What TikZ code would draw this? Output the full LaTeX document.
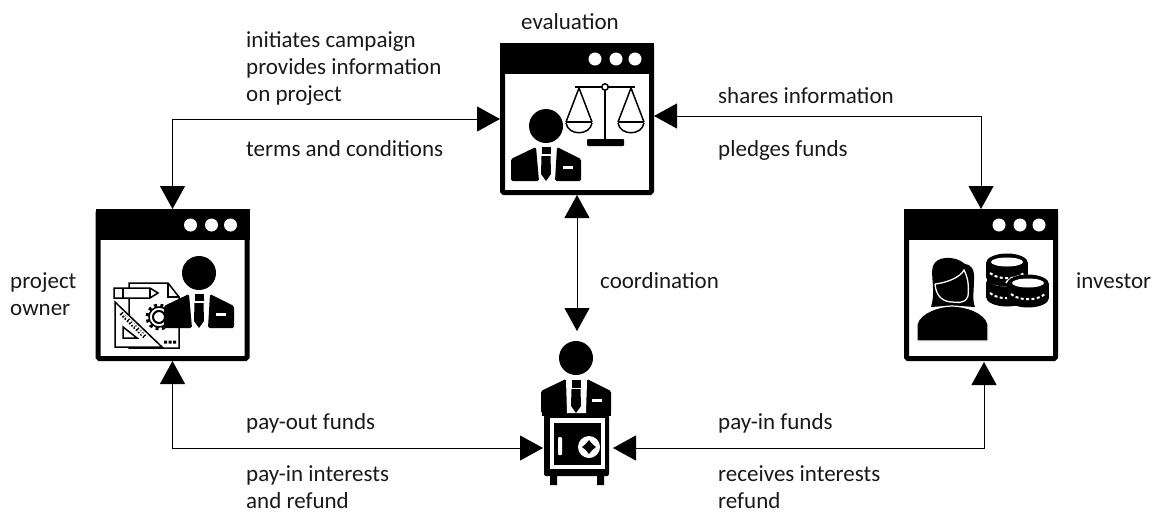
\documentclass[tikz,border=0pt]{standalone}
\usepackage{fontspec}
\setmainfont{Carlito}
\usetikzlibrary{arrows.meta,calc}
\tikzset{
  winbox/.style={draw=black,fill=white,line width=5pt,rounded corners=1.5pt,minimum width=149pt,minimum height=147pt,inner sep=0pt},
  conn/.style={line width=1pt,{Triangle[length=23pt,width=25pt]}-{Triangle[length=23pt,width=25pt]}},
  lbl/.style={anchor=base west,inner sep=0pt,align=left,text=black!90,font=\fontsize{23}{26.7}\selectfont},
  thin line/.style={line width=1.5pt,draw=black},
}
\newcommand{\winbar}[1]{%
  \fill[black] (#1.north west) rectangle ($(#1.north east)+(0,31)$);
  \foreach \d in {-59,-38,-19} \fill[white] ($(#1.north east)+(\d,16)$) circle (6.5);
}
\newcommand{\personicon}[2]{%
  \begin{scope}[shift={(#1,#2)}]
  \fill[black] (0,0) circle (17);
  \fill[black,rounded corners=1.5pt] (-35,55) -- (-35,33) -- (-10,21) -- (-7,55) -- cycle;
  \fill[black,rounded corners=1.5pt] (35,55) -- (35,33) -- (11,21) -- (9,55) -- cycle;
  \fill[black] (-4.5,21) rectangle (4.5,28);
  \fill[black] (-4.5,30) -- (4.5,30) -- (5,48) -- (0,55) -- (-5,48) -- cycle;
  \fill[white] (17,40) rectangle (27,43);
  \end{scope}
}
\newcommand{\coinstack}[2]{%
  \begin{scope}[shift={(#1,#2)}]
  \fill[black] (-21,0) rectangle (21,14);
  \fill[black] (0,0) circle[x radius=21,y radius=9.5];
  \fill[black] (0,14) circle[x radius=21,y radius=9.5];
  \fill[white] (0,-1) circle[x radius=16,y radius=4.5];
  \draw[white,line width=2pt,dash pattern=on 3pt off 2.4pt] (-17,10) .. controls (-9,17) and (9,17) .. (17,10);
  \end{scope}
}
\begin{document}
\begin{tikzpicture}[x=1pt,y=-1pt]
\useasboundingbox (0,0) rectangle (1153,512);
% windows
\node[winbox] (eval) at (577,119) {};
\node[winbox] (owner) at (172.5,285) {};
\node[winbox] (investor) at (981,285) {};
\winbar{eval}\winbar{owner}\winbar{investor}
% evaluation icon
\personicon{546}{126}
\draw[line width=2.5pt] (575,87) -- (635,87);
\draw[line width=2pt] (605,87) -- (605,141);
\fill[black,rounded corners=1pt] (587,139) rectangle (624,146);
\draw[line width=1.5pt,fill=white] (605,87) circle (3.2);
\draw[line width=1.5pt] (566,122) -- (579,88) -- (592,122);
\draw[line width=1.5pt] (618,122) -- (631,88) -- (644,122);
\draw[line width=2.5pt] (566,122) -- (592,122);
\draw[line width=2.5pt] (618,122) -- (644,122);
\draw[line width=1.5pt] (566,123) .. controls (568,136) and (590,136) .. (592,123);
\draw[line width=1.5pt] (618,123) .. controls (620,136) and (642,136) .. (644,123);
% owner icon
\draw[thin line] (129,348) -- (129,283) -- (168,283) -- (179,297) -- (179,348) -- cycle;
\draw[thin line] (168,283) -- (168,297) -- (179,297);
\draw[thin line,fill=white] (114,288) -- (150,288) -- (158,293) -- (150,298) -- (114,298) -- cycle;
\draw[thin line] (123,288) -- (123,298);
\draw[thin line] (150,288) -- (150,298);
\draw[thin line,fill=white] (115,302) -- (115,347) -- (162,347) -- cycle;
\draw[thin line] (123,327) -- (123,338) -- (137,338) -- cycle;
\draw[line width=4pt,dash pattern=on 1.6pt off 1.6pt] (121,313) -- (145,337);
\draw[white,line width=2pt,dash pattern=on 2.5pt off 2pt] (117,307) -- (149,341);
\fill[black] (164,340.5) rectangle (167,343.5) (168.5,340.5) rectangle (171.5,343.5) (173,340.5) rectangle (176,343.5);
\draw[line width=3pt,dash pattern=on 3pt off 3.4pt,fill=white] (159,317) circle (12);
\draw[line width=1.5pt,fill=white] (159,317) circle (10);
\draw[line width=2pt,fill=white] (159,317) circle (6);
\personicon{199}{273}
% investor icon
\fill[black] (931,307) .. controls (936,290) and (930,275) .. (933,266) .. controls (936,256) and (955,255) .. (965,264) .. controls (971,264) and (975,270) .. (974,280) .. controls (974,290) and (972,300) .. (975,307) -- (960,306) -- (945,306) -- cycle;
\draw[white,line width=1.3pt] (935,284) .. controls (945,283) and (960,278) .. (964,270) .. controls (968,278) and (969,285) .. (968,296) .. controls (965,305) and (955,302) .. (952,302) .. controls (945,302) and (936,298) .. (935,284);
\fill[black,draw=white,line width=1.2pt] (917,341) -- (917,324) .. controls (920,312) and (940,306) .. (952,306) .. controls (965,306) and (985,312) .. (988,324) -- (988,341) -- cycle;
\coinstack{1007}{283}
\coinstack{1007}{263}
\draw[white,line width=1.5pt] (1006,283) .. controls (1010,273) and (1046,273) .. (1050,283);
\coinstack{1028}{284}
% bank icon
\personicon{576}{358}
\fill[black,rounded corners=2pt] (544,415) rectangle (609,476);
\fill[black] (542,395) rectangle (611,416);
\fill[white] (566,380) -- (571,380) -- (571,378) -- (582,378) -- (582,380) -- (587,380) -- (586,413) -- (567,413) -- cycle;
\fill[black] (571.5,380) rectangle (580.5,388);
\fill[black] (571.5,389) -- (580.5,389) -- (581,406) -- (576,413) -- (571,406) -- cycle;
\fill[white] (592,399) rectangle (602,402);
\fill[white] (550,418) rectangle (605,469);
\fill[black] (554,423) rectangle (601,465);
\fill[white,rounded corners=1pt] (558,437) rectangle (562,455);
\fill[white] (589,447) circle (11);
\fill[black] (589,440) .. controls (591,443) and (593,445) .. (596,447) .. controls (593,449) and (591,451) .. (589,454) .. controls (587,451) and (585,449) .. (582,447) .. controls (585,445) and (587,443) .. (589,440) -- cycle;
\fill[black] (550,475) rectangle (557,485) (597,475) rectangle (604,485);
% ports
\coordinate (safeW) at (543,448);
\coordinate (safeE) at (613,448);
\coordinate (bankTop) at (577,331);
\coordinate (evalE) at (654,116);
\coordinate (investorS) at (984,362);
% connectors
\draw[conn] (eval.west) -| (owner.north);
\draw[conn] (evalE) -| (investor.north);
\draw[conn] (eval.south) -- (bankTop);
\draw[conn] (owner.south) |- (safeW);
\draw[conn] (investorS) |- (safeE);
% labels
\node[lbl] (tEval) at (521,29) {evaluation};
\node[lbl] (tInit) at (246,101) {initiates campaign\\provides information\\on project};
\node[lbl] (tTerms) at (246,156) {terms and conditions};
\node[lbl] (tShare) at (718,103) {shares information};
\node[lbl] (tPledge) at (718,156) {pledges funds};
\node[lbl] (tOwner) at (10,315) {project\\owner};
\node[lbl] (tInv) at (1076,288) {investor};
\node[lbl] (tCoord) at (600,288) {coordination};
\node[lbl] (tOut) at (246,429) {pay-out funds};
\node[lbl] (tIntr) at (246,508) {pay-in interests\\and refund};
\node[lbl] (tIn) at (718,429) {pay-in funds};
\node[lbl] (tRec) at (718,508) {receives interests\\refund};
\end{tikzpicture}
\end{document}
